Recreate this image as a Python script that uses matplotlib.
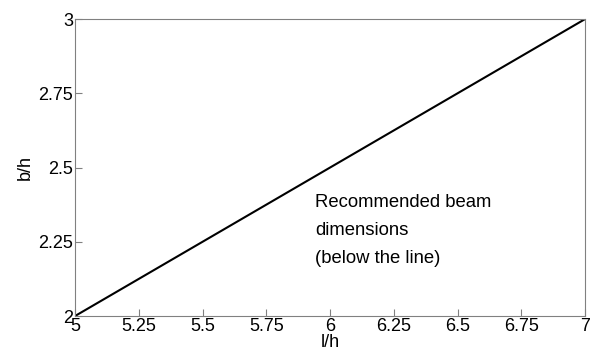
import matplotlib
matplotlib.use("Agg")
import matplotlib.pyplot as plt

l_h = [5, 7]
b_h = [2, 3]
x_ticks = [5, 5.25, 5.5, 5.75, 6, 6.25, 6.5, 6.75, 7]
x_labels = ["5", "5.25", "5.5", "5.75", "6", "6.25", "6.5", "6.75", "7"]
y_ticks = [2, 2.25, 2.5, 2.75, 3]
y_labels = ["2", "2.25", "2.5", "2.75", "3"]

plt.rcParams['font.family'] = ['Liberation Sans', 'DejaVu Sans']

fig = plt.figure(figsize=(5.91, 3.51), dpi=100)
ax = fig.add_axes([0.127, 0.0997, 0.863, 0.846])
ax.plot(l_h, b_h, color='black', linewidth=1.5)
ax.set_xlim(5, 7)
ax.set_ylim(2, 3)
ax.set_xticks(x_ticks)
ax.set_xticklabels(x_labels)
ax.set_yticks(y_ticks)
ax.set_yticklabels(y_labels)
ax.tick_params(direction='in', length=5, width=0.8, color='#808080', labelsize=13, pad=1.5)
for s in ax.spines.values():
    s.set_color('#808080')
    s.set_linewidth(0.8)
ax.set_xlabel('l/h', fontsize=13, labelpad=-1)
ax.set_ylabel('b/h', fontsize=13, labelpad=3)
ax.text(5.94, 2.412, 'Recommended beam\ndimensions\n(below the line)', fontsize=13.3,
        ha='left', va='top', linespacing=1.85)
fig.savefig('out.png', dpi=100)
